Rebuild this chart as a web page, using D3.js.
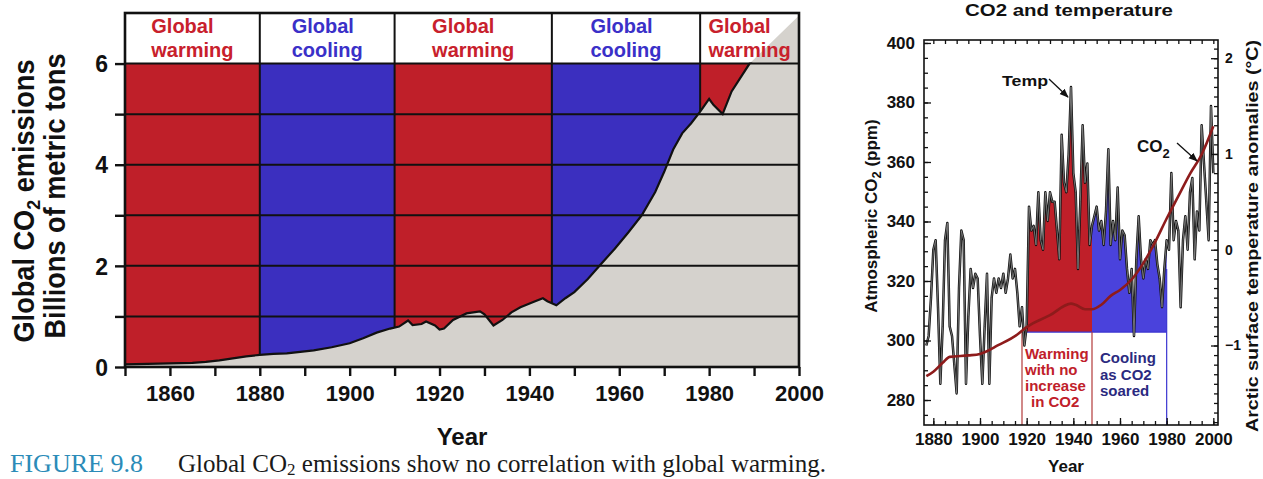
<!DOCTYPE html>
<html>
<head>
<meta charset="utf-8">
<script src="https://cdn.jsdelivr.net/npm/d3@7"></script>
<style>
  body { margin: 0; background: #fff; }
  svg { font-family: "Liberation Sans", Arial, sans-serif; }
</style>
</head>
<body>
<svg id="fig" width="1263" height="479"></svg>
<script>
// ---------- left panel data: global CO2 emissions (billions of metric tons) ----------
const emissionYears = [1850, 1855, 1860, 1865, 1868, 1871, 1874, 1877, 1880, 1883, 1886, 1889,
  1892, 1896, 1900, 1903, 1906, 1909, 1911, 1913, 1914, 1916, 1917, 1919, 1920, 1921, 1923,
  1926, 1929, 1930, 1932, 1934, 1936, 1938, 1941, 1943, 1944, 1946, 1948, 1950, 1953, 1956,
  1959, 1962, 1965, 1968, 1970, 1972, 1974, 1976, 1978, 1980, 1981, 1983, 1985, 1989, 2000];
const emissionValues = [0.05, 0.06, 0.07, 0.08, 0.10, 0.13, 0.17, 0.21, 0.24, 0.26, 0.27, 0.30,
  0.33, 0.39, 0.47, 0.57, 0.68, 0.76, 0.80, 0.92, 0.83, 0.85, 0.90, 0.82, 0.74, 0.76, 0.93,
  1.06, 1.10, 1.04, 0.82, 0.93, 1.08, 1.18, 1.29, 1.36, 1.30, 1.22, 1.36, 1.48, 1.74, 2.04,
  2.34, 2.66, 3.00, 3.46, 3.86, 4.30, 4.62, 4.82, 5.05, 5.30, 5.18, 5.00, 5.45, 6.00, 6.95];

const bandStarts = [1850, 1880, 1910, 1945, 1978];
const bandEnds = [1880, 1910, 1945, 1978, 2000];
const bandKinds = ["warming", "cooling", "warming", "cooling", "warming"];
const leftValueTicks = [0, 1, 2, 3, 4, 5, 6];
const leftYearTicks = [1850, 1860, 1870, 1880, 1890, 1900, 1910, 1920, 1930, 1940, 1950,
  1960, 1970, 1980, 1990, 2000];

// ---------- right panel data: arctic temperature anomaly (°C) and CO2 (ppm) ----------
const tempYears = d3.range(1877, 2001);
const tempValues = [
  -1.0, -0.9, -0.5, 0.0, 0.1, -0.6, -1.4, -0.8, 0.1, 0.28,           // 1877-1886
  -0.8, -0.9, -1.2, -1.5, -0.4, 0.2, 0.1, -1.4, -0.7, -0.2,           // 1887-1896
  -0.4, -0.25, -0.3, -0.9, -1.4, -0.8, -0.25, -1.4, -0.5, -0.3,       // 1897-1906
  -0.45, -0.3, -0.4, -0.25, -0.45, -0.3, -0.05, -0.3, -0.2, -0.45,    // 1907-1916
  -0.8, -0.6, -1.0, -0.8, 0.45, 0.2, 0.25, 0.05, 0.6, 0.1,            // 1917-1926
  0.0, 0.6, 0.3, 0.6, 0.5, 0.5, 0.2, -0.1, 1.2, 0.7,                  // 1927-1936
  0.6, 1.0, 1.7, 0.8, 0.6, -0.2, 0.5, 1.3, 0.7, 0.9,                  // 1937-1946
  0.05, 0.25, 0.35, 0.45, 0.2, 0.3, 0.05, 0.4, 1.05, 0.05,            // 1947-1956
  0.3, 0.1, 0.65, -0.1, 0.2, 0.15, -0.2, -0.45, -0.2, -0.9,           // 1957-1966
  -0.1, 0.35, -0.1, -0.3, -0.1, -0.2, 0.1, 0.05, 0.1, -0.15,          // 1967-1976
  -0.3, -0.6, -0.2, 0.1, 0.0, 0.8, 0.1, 0.3, 0.2, -0.6,               // 1977-1986
  0.1, 0.35, 0.0, 0.6, 0.75, -0.1, 0.4, 0.2, 1.3, 0.9,                // 1987-1996
  0.5, 0.1, 1.5, 0.8                                                  // 1997-2000
];
const co2Years = [1877, 1880, 1884, 1887, 1895, 1900, 1908, 1916, 1920, 1930, 1939, 1941,
  1945, 1948, 1952, 1956, 1960, 1965, 1970, 1975, 1980, 1985, 1990, 1995, 2000];
const co2Values = [288, 289.5, 292.5, 294.5, 295, 295.5, 298.5, 302, 304.5, 308.5, 312.4, 312,
  310.5, 310.5, 312, 315, 317, 320.5, 326, 333, 341, 348.5, 356, 362.5, 372];

const warmStart = 1920, phaseSplit = 1948, coolEnd = 1980, noteLine = 1918;
const fillBase = -0.86;
const co2Ticks = [280, 300, 320, 340, 360, 380, 400];
const tempTicks = [-1, 0, 1, 2];
const rightYearTicks = [1880, 1900, 1920, 1940, 1960, 1980, 2000];

const RED = "#bf1f29", BLUE = "#3b2fbf", GREY = "#d5d2cd";
const SANS = "'Liberation Sans', Arial, sans-serif";
const SERIF = "'Liberation Serif', 'Times New Roman', serif";
const svg = d3.select("#fig");

// =============================== LEFT PANEL ===============================
const xL = d3.scaleLinear().domain([1850, 2000]).range([125, 799]);
const yL = d3.scaleLinear().domain([0, 7]).range([367, 13]);
const left = svg.append("g");

// coloured periods up to the 6 line
left.selectAll("rect.band")
  .data(bandStarts)
  .join("rect")
  .attr("x", (d) => xL(d))
  .attr("width", (d, i) => xL(bandEnds[i]) - xL(d))
  .attr("y", yL(6))
  .attr("height", yL(0) - yL(6))
  .attr("fill", (d, i) => bandKinds[i] == "warming" ? RED : BLUE);

// period boundaries
left.selectAll("line.sep")
  .data(bandStarts.slice(1))
  .join("line")
  .attr("x1", (d) => xL(d)).attr("x2", (d) => xL(d))
  .attr("y1", yL(7)).attr("y2", yL(0))
  .attr("stroke", "#111").attr("stroke-width", 2);

// emissions under the curve
const emissions = emissionYears.map((y, i) => ({ year: y, v: emissionValues[i] }));
left.append("path")
  .datum(emissions)
  .attr("fill", GREY)
  .attr("d", d3.area().x((d) => xL(d.year)).y0(yL(0)).y1((d) => yL(d.v)));

// horizontal grid
left.selectAll("line.grid")
  .data(leftValueTicks.slice(1))
  .join("line")
  .attr("x1", xL(1850)).attr("x2", xL(2000))
  .attr("y1", (d) => yL(d)).attr("y2", (d) => yL(d))
  .attr("stroke", "#111").attr("stroke-width", 2);

// curve outline, only below the label strip
svg.append("clipPath").attr("id", "belowSix")
  .append("rect")
  .attr("x", xL(1850)).attr("y", yL(6) - 1)
  .attr("width", xL(2000) - xL(1850)).attr("height", yL(0) - yL(6) + 1);
left.append("path")
  .datum(emissions)
  .attr("clip-path", "url(#belowSix)")
  .attr("fill", "none")
  .attr("stroke", "#111").attr("stroke-width", 2.2)
  .attr("d", d3.line().x((d) => xL(d.year)).y((d) => yL(d.v)));

// period labels
bandStarts.forEach((s, i) => {
  const cx = (xL(s) + xL(bandEnds[i])) / 2;
  const t = left.append("text")
    .attr("fill", bandKinds[i] == "warming" ? "#c8202c" : "#3a30c8")
    .attr("font-size", 20).attr("font-weight", "bold");
  t.append("tspan").attr("y", 33).text("Global");
  t.append("tspan").attr("y", 57).text(bandKinds[i]);
  const w = d3.max(t.selectAll("tspan").nodes(), (n) => n.getComputedTextLength());
  t.selectAll("tspan").attr("x", cx - w / 2);
});

// frame
left.append("rect")
  .attr("x", xL(1850)).attr("y", yL(7))
  .attr("width", xL(2000) - xL(1850)).attr("height", yL(0) - yL(7))
  .attr("fill", "none").attr("stroke", "#111").attr("stroke-width", 2.6);

// axes
const axL = left.append("g")
  .attr("transform", `translate(${xL(1850)},0)`)
  .call(d3.axisLeft(yL).tickValues(leftValueTicks)
    .tickFormat((d) => d % 2 == 0 ? d : "").tickSize(10).tickPadding(7));
const axB = left.append("g")
  .attr("transform", `translate(0,${yL(0)})`)
  .call(d3.axisBottom(xL).tickValues(leftYearTicks)
    .tickFormat((d) => d % 20 == 0 && d > 1850 ? d : "").tickSize(9).tickPadding(9));
[axL, axB].forEach((a) => {
  a.select(".domain").remove();
  a.selectAll(".tick line").attr("stroke", "#111").attr("stroke-width", 2.4);
  a.selectAll(".tick text").attr("fill", "#111")
    .style("font-family", SANS).attr("font-weight", "bold");
});
axL.selectAll(".tick text").attr("font-size", 23).attr("dy", "0.36em");
axB.selectAll(".tick text").attr("font-size", 22);

left.append("text")
  .attr("x", (xL(1850) + xL(2000)) / 2).attr("y", 445)
  .attr("text-anchor", "middle").attr("font-size", 24).attr("font-weight", "bold")
  .attr("fill", "#111").text("Year");

const yt1 = left.append("text")
  .attr("transform", "translate(34,201) rotate(-90)")
  .attr("text-anchor", "middle").attr("font-size", 29).attr("font-weight", "bold")
  .attr("fill", "#111").attr("textLength", 283).attr("lengthAdjust", "spacingAndGlyphs");
yt1.append("tspan").text("Global CO");
yt1.append("tspan").attr("font-size", 19).attr("dy", 6).text("2");
yt1.append("tspan").attr("dy", -6).text(" emissions");
left.append("text")
  .attr("transform", "translate(65,196) rotate(-90)")
  .attr("text-anchor", "middle").attr("font-size", 29).attr("font-weight", "bold")
  .attr("fill", "#111").attr("textLength", 285).attr("lengthAdjust", "spacingAndGlyphs")
  .text("Billions of metric tons");

// caption
svg.append("text")
  .attr("x", 10).attr("y", 472)
  .style("font-family", SERIF)
  .attr("font-size", 26).attr("fill", "#2b8bb8").text("FIGURE 9.8");
const cap = svg.append("text")
  .attr("x", 178).attr("y", 472)
  .style("font-family", SERIF)
  .attr("font-size", 25).attr("fill", "#1a1a1a");
cap.append("tspan").text("Global CO");
cap.append("tspan").attr("font-size", 17).attr("dy", 3).text("2");
cap.append("tspan").attr("dy", -3).text(" emissions show no correlation with global warming.");

// =============================== RIGHT PANEL ===============================
const xR = d3.scaleLinear().domain([1876, 2002]).range([924, 1218]);
const yC = d3.scaleLinear().domain([271.6, 401]).range([425, 40]);
const yT = d3.scaleLinear().domain([-1.83, 2.19]).range([425, 40]);
const right = svg.append("g");

const temps = tempYears.map((y, i) => ({ year: y, t: tempValues[i] }));
const co2 = co2Years.map((y, i) => ({ year: y, c: co2Values[i] }));

// shaded phases between temperature and baseline
[[warmStart, phaseSplit, RED, "clipWarm"], [phaseSplit, coolEnd, "#4a42dc", "clipCool"]]
  .forEach(([a, b, col, id]) => {
    svg.append("clipPath").attr("id", id).append("rect")
      .attr("x", xR(a)).attr("width", xR(b) - xR(a))
      .attr("y", 40).attr("height", yT(fillBase) - 40);
    right.append("path")
      .datum(temps)
      .attr("clip-path", `url(#${id})`)
      .attr("fill", col)
      .attr("d", d3.area().x((d) => xR(d.year)).y0(yT(fillBase)).y1((d) => yT(d.t)));
  });

// note box lines
right.append("line")
  .attr("x1", xR(warmStart)).attr("x2", xR(coolEnd))
  .attr("y1", yT(fillBase)).attr("y2", yT(fillBase))
  .attr("stroke", "#3a35d0").attr("stroke-width", 1.2);
[[noteLine, "#b23a3a"], [phaseSplit, "#b23a3a"], [coolEnd, "#3a35d0"]].forEach(([yr, col]) => {
  right.append("line")
    .attr("x1", xR(yr)).attr("x2", xR(yr))
    .attr("y1", yr == coolEnd ? yT(-0.2) : yT(fillBase)).attr("y2", 425)
    .attr("stroke", col).attr("stroke-width", 1.2);
});

// temperature
right.append("path")
  .datum(temps).attr("fill", "none")
  .attr("stroke", "#111").attr("stroke-width", 2.5).attr("stroke-linejoin", "round")
  .attr("d", d3.line().x((d) => xR(d.year)).y((d) => yT(d.t)));
right.append("path")
  .datum(temps).attr("fill", "none")
  .attr("stroke", "#8a8a8a").attr("stroke-width", 0.8)
  .attr("d", d3.line().x((d) => xR(d.year)).y((d) => yT(d.t)));

// CO2
right.append("path")
  .datum(co2).attr("fill", "none")
  .attr("stroke", "#8e1b1b").attr("stroke-width", 2.6)
  .attr("d", d3.line().curve(d3.curveMonotoneX).x((d) => xR(d.year)).y((d) => yC(d.c)));

// frame
right.append("rect")
  .attr("x", 924).attr("y", 40).attr("width", 294).attr("height", 385)
  .attr("fill", "none").attr("stroke", "#111").attr("stroke-width", 1.6);

function styleAxis(a, size) {
  a.select(".domain").remove();
  a.selectAll(".tick line").attr("stroke", "#111").attr("stroke-width", 1.3);
  a.selectAll(".tick text").attr("fill", "#111").attr("font-size", size)
    .style("font-family", SANS).attr("font-weight", "bold");
}
// minor ticks
styleAxis(right.append("g").attr("transform", "translate(924,0)")
  .call(d3.axisLeft(yC).tickValues(d3.range(275, 401, 5)).tickFormat("").tickSize(-4)), 0);
styleAxis(right.append("g").attr("transform", "translate(1218,0)")
  .call(d3.axisRight(yT).tickValues(d3.range(-18, 22).map((d) => d / 10)).tickFormat("").tickSize(-4)), 0);
styleAxis(right.append("g").attr("transform", "translate(0,425)")
  .call(d3.axisBottom(xR).tickValues(d3.range(1880, 2001, 5)).tickFormat("").tickSize(-4)), 0);
styleAxis(right.append("g").attr("transform", "translate(0,40)")
  .call(d3.axisTop(xR).tickValues(d3.range(1880, 2001, 5)).tickFormat("").tickSize(-4)), 0);
// major ticks with labels
styleAxis(right.append("g").attr("transform", "translate(924,0)")
  .call(d3.axisLeft(yC).tickValues(co2Ticks).tickFormat(d3.format("d")).tickSize(-7).tickPadding(9)), 17);
styleAxis(right.append("g").attr("transform", "translate(1218,0)")
  .call(d3.axisRight(yT).tickValues(tempTicks).tickFormat(d3.format("d")).tickSize(-7).tickPadding(7)), 14);
styleAxis(right.append("g").attr("transform", "translate(0,425)")
  .call(d3.axisBottom(xR).tickValues(rightYearTicks).tickFormat(d3.format("d")).tickSize(-7).tickPadding(8)), 17);

// titles
right.append("text").attr("x", 1069).attr("y", 16).attr("text-anchor", "middle")
  .attr("font-size", 17).attr("font-weight", "bold").attr("fill", "#111")
  .attr("textLength", 208).attr("lengthAdjust", "spacingAndGlyphs")
  .text("CO2 and temperature");
right.append("text").attr("x", 1066).attr("y", 472).attr("text-anchor", "middle")
  .attr("font-size", 17).attr("font-weight", "bold").attr("fill", "#111").text("Year");
const ra = right.append("text")
  .attr("transform", "translate(877,216) rotate(-90)").attr("text-anchor", "middle")
  .attr("font-size", 17).attr("font-weight", "bold").attr("fill", "#111");
ra.append("tspan").text("Atmospheric CO");
ra.append("tspan").attr("font-size", 13).attr("dy", 4).text("2");
ra.append("tspan").attr("dy", -4).text("  (ppm)");
right.append("text")
  .attr("transform", "translate(1258,236) rotate(-90)").attr("text-anchor", "middle")
  .attr("font-size", 16).attr("font-weight", "bold").attr("fill", "#111")
  .attr("textLength", 392).attr("lengthAdjust", "spacingAndGlyphs")
  .text("Arctic surface temperature anomalies (°C)");

// annotations
svg.append("defs").append("marker").attr("id", "arr")
  .attr("viewBox", "0 0 10 10").attr("refX", 9).attr("refY", 5)
  .attr("markerWidth", 7).attr("markerHeight", 7).attr("orient", "auto")
  .append("path").attr("d", "M0,1 L10,5 L0,9 Z").attr("fill", "#111");
right.append("text").attr("x", 1002).attr("y", 86)
  .attr("font-size", 15).attr("font-weight", "bold").attr("fill", "#111")
  .attr("textLength", 46).attr("lengthAdjust", "spacingAndGlyphs").text("Temp");
right.append("line").attr("x1", 1049).attr("y1", 79).attr("x2", 1068).attr("y2", 97)
  .attr("stroke", "#111").attr("stroke-width", 1.3).attr("marker-end", "url(#arr)");
const cl = right.append("text").attr("x", 1137).attr("y", 152)
  .attr("font-size", 17).attr("font-weight", "bold").attr("fill", "#111");
cl.append("tspan").text("CO");
cl.append("tspan").attr("font-size", 13).attr("dy", 6).text("2");
right.append("line").attr("x1", 1177).attr("y1", 143).attr("x2", 1197).attr("y2", 161)
  .attr("stroke", "#111").attr("stroke-width", 1.3).attr("marker-end", "url(#arr)");

const warmNote = right.append("text").attr("font-size", 15).attr("font-weight", "bold")
  .attr("fill", "#c0202a");
["Warming", "with no", "increase", " in CO2"].forEach((s, i) => {
  warmNote.append("tspan").attr("x", i == 3 ? 1031 : 1025).attr("y", 359 + i * 16).text(s.trim());
});
const coolNote = right.append("text").attr("font-size", 15).attr("font-weight", "bold")
  .attr("fill", "#2b2a80");
["Cooling", "as CO2", "soared"].forEach((s, i) => {
  coolNote.append("tspan").attr("x", 1100).attr("y", 363 + i * 16.5).text(s);
});
</script>
</body>
</html>
